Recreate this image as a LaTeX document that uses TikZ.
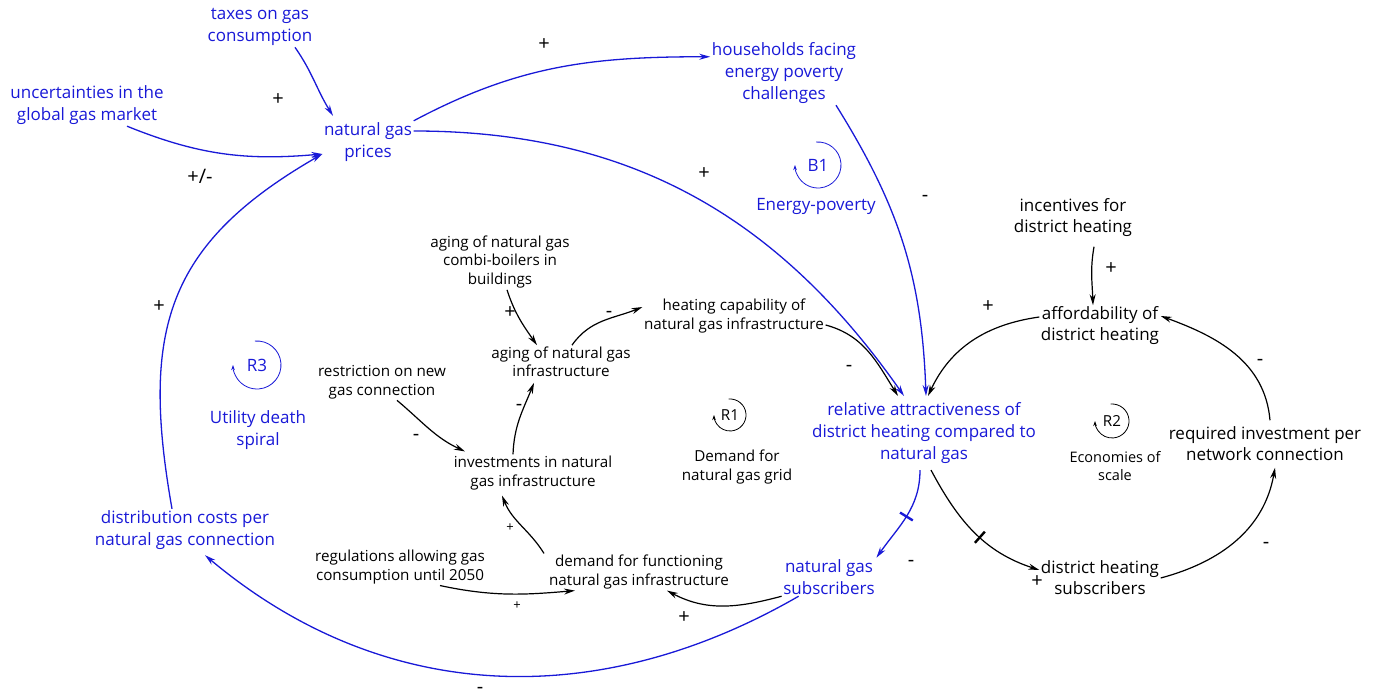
\documentclass[tikz,border=0pt]{standalone}
\usepackage{fontspec}
\setmainfont{Open Sans}
\usetikzlibrary{arrows.meta,positioning}
\definecolor{cldblue}{RGB}{25,25,215}

\tikzset{
  var/.style={align=center, inner sep=1.5pt, font=\fontsize{17}{22}\selectfont, text=cldblue},
  blk/.style={align=center, inner sep=1.5pt, font=\fontsize{15.2}{18.5}\selectfont},
  bigblk/.style={align=center, inner sep=1.5pt, font=\fontsize{17}{21}\selectfont},
  link/.style={->, line width=1.3pt, cldblue},
  blink/.style={->, line width=1.2pt, black},
  sign/.style={font=\fontsize{20}{20}\selectfont, inner sep=0pt},
  smallsign/.style={font=\fontsize{13}{13}\selectfont, inner sep=0pt},
  delaymark/.style={sloped, fill, minimum width=2.4pt, minimum height=15pt, inner sep=0pt},
  loopsym/.style={->, line width=0.8pt, >={Stealth[length=5pt,width=3.5pt]}},
}

\begin{document}
\begin{tikzpicture}[x=1pt,y=1pt,>={Stealth[length=11pt,width=6pt]}]
\useasboundingbox (0,0) rectangle (1391,699);

% gas side
\node[var] (tax) at (260,672) {taxes on gas\\consumption};
\node[var] (unc) at (87,594) {uncertainties in the\\global gas market};
\node[var] (ngp) at (368,557) {natural gas\\prices};
\node[var] (hh) at (784,626) {households facing\\energy poverty\\challenges};
\node[var,outer sep=5pt] (rel) at (924,266) {relative attractiveness of\\district heating compared to\\natural gas};
\node[var] (ngs) at (829,122) {natural gas\\subscribers};
\node[var] (dist) at (185,169) {distribution costs per\\natural gas connection};

% infrastructure
\node[blk] (agb) at (500,437) {aging of natural gas\\combi-boilers in\\buildings};
\node[blk] (agi) at (561,337) {aging of natural gas\\infrastructure};
\node[blk] (hc) at (734,383) {heating capability of\\natural gas infrastructure};
\node[blk] (res) at (382,317) {restriction on new\\gas connection};
\node[blk] (inv) at (533,226) {investments in natural\\gas infrastructure};
\node[blk] (dem) at (639,127) {demand for functioning\\natural gas infrastructure};
\node[blk] (reg) at (400,132) {regulations allowing gas\\consumption until 2050};

% district heating
\node[bigblk] (inc) at (1073,481) {incentives for\\district heating};
\node[bigblk] (aff) at (1100,373) {affordability of\\district heating};
\node[bigblk] (req) at (1265,255) {required investment per\\network connection};
\node[bigblk] (dhs) at (1100,121) {district heating\\subscribers};

% loops
\node[var] (b1) at (818,534) {B1};
\draw[loopsym,cldblue] ([shift={(95:23)}]b1.center) arc[start angle=95,end angle=-180,radius=23];
\node[var] (b1t) at (816,493) {Energy-poverty};
\node[var] (r3) at (257,334) {R3};
\draw[loopsym,cldblue] ([shift={(95:24)}]r3.center) arc[start angle=95,end angle=-180,radius=24];
\node[var] (r3t) at (258,269) {Utility death\\spiral};
\node[blk] (r1) at (730,284) {R1};
\draw[loopsym] ([shift={(95:16)}]r1.center) arc[start angle=95,end angle=-180,radius=16];
\node[blk] (r1t) at (737,232) {Demand for\\natural gas grid};
\node[blk] (r2) at (1112,278) {R2};
\draw[loopsym] ([shift={(95:17)}]r2.center) arc[start angle=95,end angle=-180,radius=17];
\node[blk,font=\fontsize{14.5}{18}\selectfont] (r2t) at (1115,233) {Economies of\\scale};

% blue links
\draw[link] ([xshift=35pt]tax.south) to[out=-55,in=122] ([xshift=-35pt,yshift=5pt]ngp.north);
\draw[link] ([xshift=40pt]unc.south) to[out=-22,in=185] ([yshift=-12pt]ngp.west);
\draw[link] (ngp.north east) to[out=28,in=180] ([yshift=-16pt]hh.north west);
\draw[link] ([yshift=11pt]ngp.east) to[out=0,in=125] ([xshift=-20pt]rel.north);
\draw[link] ([xshift=52pt]hh.south) to[out=-58,in=92] ([xshift=2pt]rel.north);
\draw[link] ([xshift=-4pt]rel.south) to[out=-90,in=55] node[delaymark] (d1) {} (ngs.north east);
\draw[link] ([xshift=17pt]ngs.south west) to[out=-150,in=-40] ([xshift=20pt,yshift=-4pt]dist.south);
\draw[link] ([xshift=-13pt]dist.north) to[out=100,in=-150,looseness=1.2] ([yshift=-12pt]ngp.west);

% black links
\draw[blink] ([xshift=7pt]agb.south) to[out=-72,in=125] ([xshift=-24pt]agi.north);
\draw[blink] ([xshift=11pt]agi.north) to[out=55,in=-158] ([yshift=9pt]hc.west);
\draw[blink] ([yshift=-9pt]hc.east) to[out=-15,in=122] ([xshift=-26pt]rel.north);
\draw[blink] ([xshift=15pt]res.south) to[out=-40,in=155] ([xshift=-68pt,yshift=3pt]inv.north);
\draw[blink] ([xshift=-20pt]inv.north) to[out=88,in=-112] ([xshift=-27pt,yshift=-4pt]agi.south);
\draw[blink] ([xshift=-95pt]dem.north) to[out=122,in=-68] ([xshift=-31pt,yshift=-4pt]inv.south);
\draw[blink] ([xshift=40pt]reg.south) to[out=-12,in=185] ([xshift=-64pt]dem.south);
\draw[blink] (ngs.south west) to[out=195,in=-28] ([xshift=28pt]dem.south);
\draw[blink] ([yshift=9pt]aff.west) to[out=188,in=65] ([xshift=4pt]rel.north);
\draw[blink] ([xshift=21pt,yshift=-8pt]inc.south) to[out=-100,in=92] ([xshift=-7pt]aff.north);
\draw[blink] ([xshift=5pt,yshift=5pt]req.north) to[out=95,in=-20] ([yshift=10pt]aff.east);
\draw[blink] ([xshift=7pt]rel.south) to[out=-62,in=162] node[delaymark,pos=0.55] (d2) {} ([yshift=8pt]dhs.west);
\draw[blink] (dhs.east) to[out=15,in=-100] ([xshift=10pt,yshift=-5pt]req.south);

% polarities
\foreach \x/\y/\s [count=\i] in {278/599/+, 200/523/{+/-}, 544/654/+, 704/525/+, 925/501/-,
    911/136/-, 480/9/-, 159/392/+, 510/386/+, 609/385/-, 849/331/-, 416/262/-, 519/292/-,
    684/81/+, 988/392/+, 1111/430/+, 1260/337/-, 1037/117/+, 1266/154/-}
  \node[sign] (s\i) at (\x,\y) {\s};
\foreach \x/\y [count=\i] in {510/171, 517/93}
  \node[smallsign] (t\i) at (\x,\y) {+};

\end{tikzpicture}
\end{document}
